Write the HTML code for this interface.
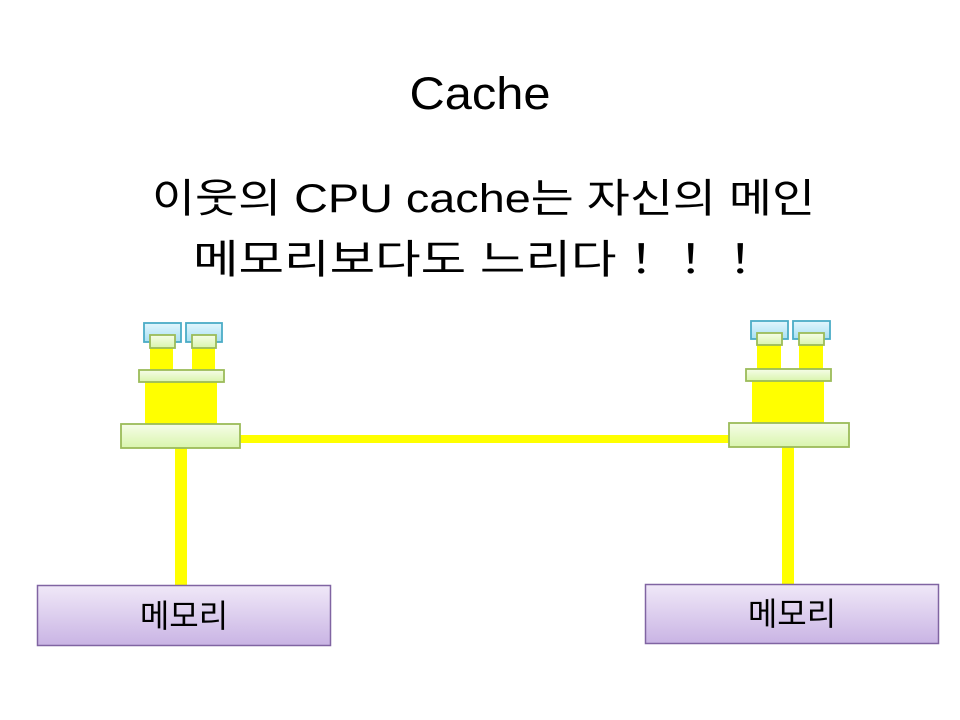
<!DOCTYPE html>
<html><head><meta charset="utf-8"><style>
html,body{margin:0;padding:0;background:#fff;}
svg{display:block}
text{font-family:"Liberation Sans","Noto Sans CJK KR","NanumGothic",sans-serif;fill:#000}
</style></head><body>
<svg width="960" height="720" viewBox="0 0 960 720" xmlns="http://www.w3.org/2000/svg">
<defs>
<linearGradient id="g" x1="0" y1="0" x2="0" y2="1"><stop offset="0" stop-color="#f6fde8"/><stop offset="1" stop-color="#d9f5ad"/></linearGradient>
<linearGradient id="b" x1="0" y1="0" x2="0" y2="1"><stop offset="0" stop-color="#e2f6fd"/><stop offset="1" stop-color="#a8e0f3"/></linearGradient>
<linearGradient id="p" x1="0" y1="0" x2="0" y2="1"><stop offset="0" stop-color="#f0e8f8"/><stop offset="1" stop-color="#c9b4e4"/></linearGradient>
</defs>
<text x="480" y="109" font-size="45" text-anchor="middle" textLength="141" lengthAdjust="spacingAndGlyphs">Cache</text>
<text x="152" y="212" font-size="40" textLength="663" lengthAdjust="spacingAndGlyphs">이웃의 CPU cache는 자신의 메인</text>
<text x="193" y="273" font-size="40" textLength="572" lengthAdjust="spacingAndGlyphs">메모리보다도 느리다！！！</text>

<rect x="240" y="435" width="490" height="8" fill="#ffff00"/>
<rect x="175" y="446" width="12" height="140" fill="#ffff00"/>
<rect x="782" y="446" width="12" height="139" fill="#ffff00"/>

<g stroke-width="1.8">
<rect x="144" y="323" width="37" height="19" fill="url(#b)" stroke="#4bacc6"/>
<rect x="186" y="323" width="36" height="19" fill="url(#b)" stroke="#4bacc6"/>
<rect x="150" y="347" width="23" height="23" fill="#ffff00" stroke="none"/>
<rect x="192" y="347" width="23" height="23" fill="#ffff00" stroke="none"/>
<rect x="150" y="335" width="25" height="13" fill="url(#g)" stroke="#9bbb59"/>
<rect x="192" y="335" width="24" height="13" fill="url(#g)" stroke="#9bbb59"/>
<rect x="145" y="381" width="72" height="44" fill="#ffff00" stroke="none"/>
<rect x="139" y="370" width="85" height="12" fill="url(#g)" stroke="#9bbb59"/>
<rect x="121" y="424" width="119" height="24" fill="url(#g)" stroke="#9bbb59"/>
</g>
<g stroke-width="1.8">
<rect x="751" y="321" width="37" height="18" fill="url(#b)" stroke="#4bacc6"/>
<rect x="793" y="321" width="37" height="18" fill="url(#b)" stroke="#4bacc6"/>
<rect x="757" y="344" width="24" height="26" fill="#ffff00" stroke="none"/>
<rect x="799" y="344" width="24" height="26" fill="#ffff00" stroke="none"/>
<rect x="757" y="333" width="25" height="12" fill="url(#g)" stroke="#9bbb59"/>
<rect x="799" y="333" width="25" height="12" fill="url(#g)" stroke="#9bbb59"/>
<rect x="752" y="380" width="72" height="44" fill="#ffff00" stroke="none"/>
<rect x="746" y="369" width="85" height="12" fill="url(#g)" stroke="#9bbb59"/>
<rect x="729" y="423" width="120" height="24" fill="url(#g)" stroke="#9bbb59"/>
</g>

<rect x="37.5" y="585.5" width="293" height="60" fill="url(#p)" stroke="#8064a2" stroke-width="1.5"/>
<text x="184" y="627" font-size="32" text-anchor="middle">메모리</text>
<rect x="645.5" y="584.5" width="293" height="59" fill="url(#p)" stroke="#8064a2" stroke-width="1.5"/>
<text x="792" y="625" font-size="32" text-anchor="middle">메모리</text>
</svg>
</body></html>
